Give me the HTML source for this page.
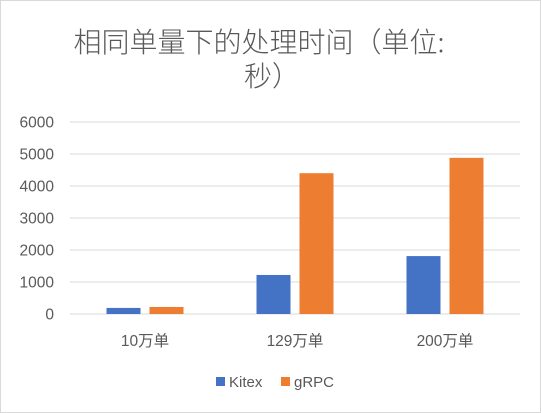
<!DOCTYPE html>
<html><head><meta charset="utf-8"><style>
body{margin:0;background:#fff}
svg{display:block;font-family:"Liberation Sans","Noto Sans CJK SC",sans-serif}
</style></head><body>
<svg width="541" height="413">
<rect x="0.5" y="0.5" width="540" height="412" fill="#fff" stroke="#d9d9d9"/>
<text x="259" y="52" font-size="28" font-weight="300" fill="#595959" text-anchor="middle" font-family="Noto Sans CJK SC, sans-serif">相同单量下的处理时间（单位:</text>
<text x="272" y="86" font-size="28" font-weight="300" fill="#595959" text-anchor="middle" font-family="Noto Sans CJK SC, sans-serif">秒）</text>
<g id="grid"></g><g id="bars"></g><g id="labels"></g>
<g>
<rect x="216" y="377" width="9" height="9" fill="#4472c4"/>
<text x="229" y="387" font-size="15" fill="#595959">Kitex</text>
<rect x="281" y="377" width="9" height="9" fill="#ed7d31"/>
<text x="294" y="387" font-size="15" fill="#595959">gRPC</text>
</g>
</svg>
<script>
const categories=["10万单","129万单","200万单"];
const kitexValues=[190,1220,1810];
const grpcValues=[220,4400,4880];
const yTicks=[0,1000,2000,3000,4000,5000,6000];
const NS="http://www.w3.org/2000/svg";
const x0=70,x1=520,yBase=314,yTop=122,yMax=6000;
const y=v=>yBase-(v/yMax)*(yBase-yTop);
const band=(x1-x0)/categories.length;
function mk(tag,attrs,parent,txt){const e=document.createElementNS(NS,tag);for(const k in attrs)e.setAttribute(k,attrs[k]);if(txt!==undefined)e.textContent=txt;document.getElementById(parent).appendChild(e);return e;}
yTicks.forEach(t=>{
 const l=mk('line',{x1:x0,x2:x1,y1:y(t),y2:y(t),stroke:'#d9d9d9','stroke-width':1},'grid');
 
 
 const tx=mk('text',{x:54,y:y(t)+5.5,'font-size':15.5,fill:'#595959','text-anchor':'end'},'labels',String(t));
 
 
});
categories.forEach((c,i)=>{
 const cx=x0+band*(i+0.5);
 const bw=34,gap=9;
 const b1=mk('rect',{x:cx-gap/2-bw,y:y(kitexValues[i]),width:bw,height:yBase-y(kitexValues[i]),fill:'#4472c4'},'bars');
 
 
 const b2=mk('rect',{x:cx+gap/2,y:y(grpcValues[i]),width:bw,height:yBase-y(grpcValues[i]),fill:'#ed7d31'},'bars');
 
 
 const t=mk('text',{x:cx,y:346,'font-size':15.5,fill:'#595959','text-anchor':'middle'},'labels',c);
 
 
});
</script>
</body></html>
